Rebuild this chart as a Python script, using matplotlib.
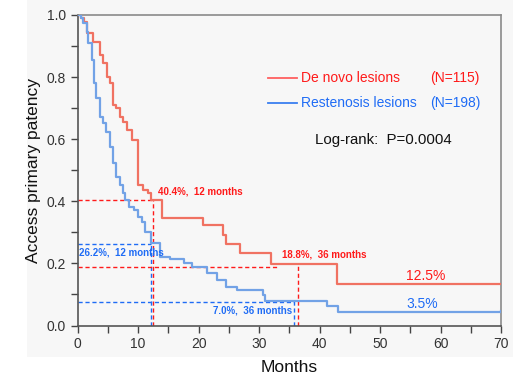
import numpy as np
import matplotlib.pyplot as plt
from matplotlib.patches import Rectangle

plt.rcParams['font.family'] = ['Liberation Sans', 'DejaVu Sans']

# Kaplan-Meier steps (months, patency)
denovo_t = [0, 0.5, 1.0, 1.5, 2.6, 3.7, 4.2, 4.8, 5.3, 5.9, 6.4, 7.0, 7.5, 8.1, 8.9,
            10.0, 10.8, 11.7, 12.2, 13.9, 20.8, 24.1, 24.6, 26.8, 31.9, 42.9, 70]
denovo_s = [1.0, 0.99, 0.978, 0.942, 0.914, 0.871, 0.845, 0.801, 0.781, 0.710, 0.700,
            0.672, 0.656, 0.630, 0.597, 0.452, 0.436, 0.427, 0.404, 0.345, 0.324,
            0.291, 0.262, 0.232, 0.197, 0.135, 0.135]

resten_t = [0, 0.5, 0.9, 1.5, 1.7, 2.3, 2.7, 3.1, 3.7, 4.2, 4.7, 5.3, 5.8, 6.4, 7.0,
            7.5, 7.8, 8.5, 9.3, 9.9, 10.7, 11.2, 12.1, 13.6, 15.3, 17.5, 18.9, 21.3,
            23.0, 24.6, 26.3, 30.7, 31.0, 41.2, 43.0, 70]
resten_s = [1.0, 0.99, 0.974, 0.946, 0.91, 0.855, 0.781, 0.733, 0.672, 0.652, 0.624,
            0.576, 0.523, 0.479, 0.452, 0.427, 0.404, 0.383, 0.372, 0.350, 0.334,
            0.302, 0.265, 0.222, 0.213, 0.202, 0.187, 0.168, 0.147, 0.125, 0.114,
            0.098, 0.079, 0.063, 0.045, 0.048]

red_line = '#f07262'
blue_line = '#72a2e6'
red_txt = '#ff1a1a'
blue_txt = '#1f6cf5'

fig = plt.figure(figsize=(5.13, 3.87), dpi=100)
fig.patch.set_facecolor('white')
bg = Rectangle((27 / 513, 1 - 357 / 387), 1, 357 / 387, transform=fig.transFigure,
               facecolor='#f7f7f7', edgecolor='none', zorder=-10)
fig.add_artist(bg)
ax = fig.add_axes([77.7 / 513, 1 - 325.5 / 387, 423.3 / 513, 310.5 / 387])
ax.set_zorder(1)
ax.set_facecolor('#f7f7f7')

ax.step(denovo_t, denovo_s, where='post', color=red_line, lw=1.6, zorder=3)
ax.step(resten_t, resten_s, where='post', color=blue_line, lw=1.6, zorder=3)

# reference dashed lines
dash = dict(lw=1.0, ls=(0, (3, 2)), zorder=2)
ax.plot([0, 12.5], [0.404, 0.404], color=red_txt, **dash)
ax.plot([12.5, 12.5], [0, 0.404], color=red_txt, **dash)
ax.plot([0, 12.2], [0.262, 0.262], color=blue_txt, **dash)
ax.plot([12.2, 12.2], [0, 0.262], color=blue_txt, **dash)
ax.plot([0, 33], [0.189, 0.189], color=red_txt, **dash)
ax.plot([36.5, 36.5], [0, 0.197], color=red_txt, **dash)
ax.plot([0, 35.8], [0.075, 0.075], color=blue_txt, **dash)
ax.plot([35.8, 35.8], [0, 0.079], color=blue_txt, **dash)

small = dict(fontsize=7.0, fontweight='bold', va='center', zorder=4)
ax.text(13.3, 0.430, '40.4%,  12 months', color=red_txt, ha='left', **small)
ax.text(0.2, 0.236, '26.2%,  12 months', color=blue_txt, ha='left', **small)
ax.text(33.8, 0.228, '18.8%,  36 months', color=red_txt, ha='left', **small)
ax.text(22.3, 0.047, '7.0%,  36 months', color=blue_txt, ha='left', **small)
ax.text(57.6, 0.160, '12.5%', color=red_txt, ha='center', va='center', fontsize=10)
ax.text(57.0, 0.069, '3.5%', color=blue_txt, ha='center', va='center', fontsize=10)

# legend drawn by hand
ax.plot([31.5, 36.2], [0.798, 0.798], color='#ff6060', lw=1.3)
ax.plot([31.5, 36.2], [0.718, 0.718], color='#3a7ff0', lw=1.3)
ax.text(37.0, 0.798, 'De novo lesions', color=red_txt, fontsize=10, va='center')
ax.text(58.3, 0.798, '(N=115)', color=red_txt, fontsize=10, va='center')
ax.text(37.0, 0.718, 'Restenosis lesions', color=blue_txt, fontsize=10, va='center')
ax.text(58.3, 0.718, '(N=198)', color=blue_txt, fontsize=10, va='center')
ax.text(39.2, 0.597, 'Log-rank:  P=0.0004', color='#111111', fontsize=10.8, va='center')

ax.set_xlim(0, 70)
ax.set_ylim(0, 1.0)
ax.set_xticks(np.arange(0, 71, 10))
ax.set_xticks(np.arange(0, 71, 5), minor=True)
ax.set_yticks(np.arange(0, 1.01, 0.2))
ax.set_yticks(np.arange(0, 1.01, 0.1), minor=True)
ax.set_yticklabels([f'{v:.1f}' for v in np.arange(0, 1.01, 0.2)])
ax.tick_params(which='both', direction='out', length=5, width=1, color='#444444',
               labelsize=10, labelcolor='#333333')
for s in ['left', 'bottom']:
    ax.spines[s].set_color('#555555')
    ax.spines[s].set_linewidth(1.2)
for s in ['top', 'right']:
    ax.spines[s].set_color('#8a8a8a')
    ax.spines[s].set_linewidth(1.2)

ax.set_xlabel('Months', fontsize=12.5, color='#111111', labelpad=6)
ax.set_ylabel('Access primary patency', fontsize=12.5, color='#111111', labelpad=4)

fig.savefig('out.png', dpi=100, facecolor=fig.get_facecolor())
